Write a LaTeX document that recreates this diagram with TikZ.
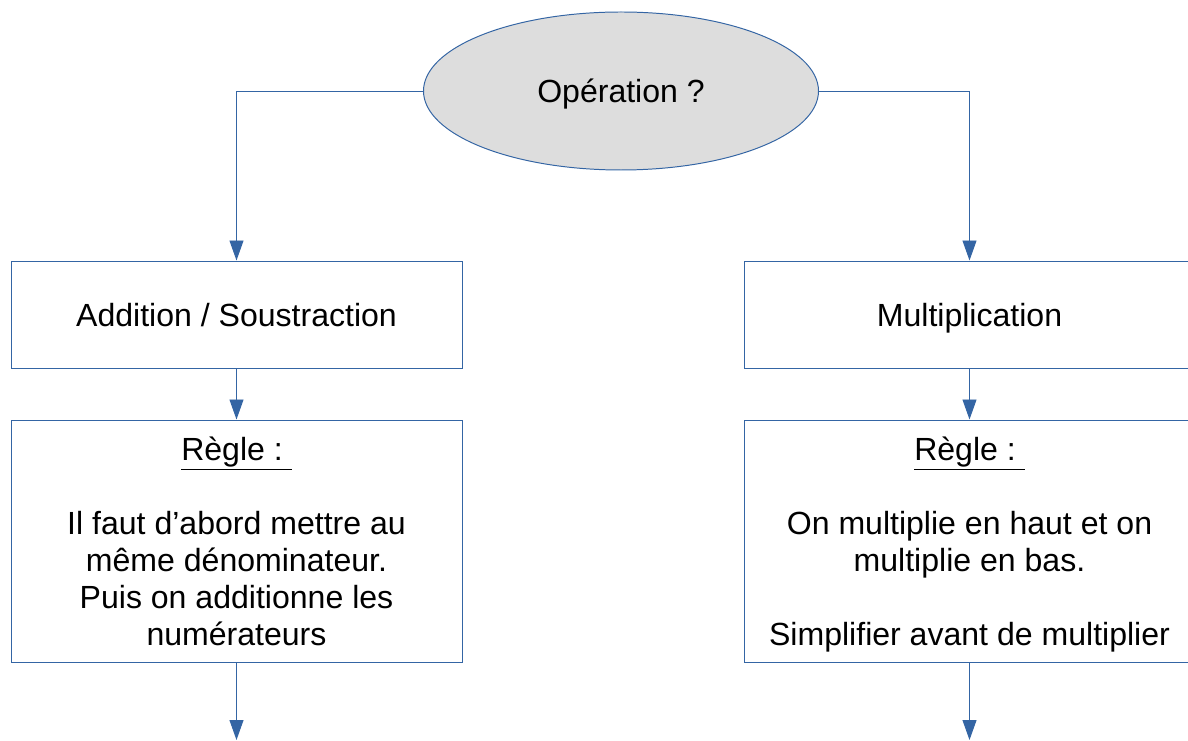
\documentclass[tikz,border=0pt]{standalone}
\usepackage{fontspec}
\setmainfont{Liberation Sans}
\usetikzlibrary{arrows.meta,positioning,shapes.geometric}
\definecolor{flowblue}{RGB}{52,101,164}
\definecolor{lightgrey}{RGB}{221,221,221}

\tikzset{
    decision/.style={ellipse, draw=flowblue, fill=lightgrey, line width=0.7pt,
        minimum width=9.875cm, minimum height=3.95cm, inner sep=0pt, text depth=0pt},
    flowbox/.style={rectangle, draw=flowblue, line width=0.7pt, align=center,
        minimum width=11.275cm, inner sep=0pt},
    flowarrow/.style={draw=flowblue, line width=0.7pt,
        -{Triangle[width=0.35cm, length=0.5cm]}}
}

\begin{document}
\begin{tikzpicture}[font=\fontsize{22.8}{26.3}\selectfont]
    \useasboundingbox (0,0) rectangle (29.7,18.5);

    % Decision
    \node[decision] (op) at (15.525,16.225) {Opération ?};

    % Left branch
    \node[flowbox, minimum height=2.675cm, text depth=0pt] (addbox) at (5.9125,10.6375) {Addition / Soustraction};
    \node[flowbox, minimum height=6.05cm] (addrule) at (5.9125,4.975)
        {\underline{Règle :\ }\\[26.3pt]Il faut d’abord mettre au\\même dénominateur.\\Puis on additionne les\\numérateurs};
    \coordinate (addend) at (5.9125,0);

    % Right branch
    \node[flowbox, minimum height=2.675cm, text depth=0pt] (mulbox) at (24.2375,10.6375) {Multiplication};
    \node[flowbox, minimum height=6.05cm] (mulrule) at (24.2375,4.975)
        {\underline{Règle :\ }\\[26.3pt]On multiplie en haut et on\\multiplie en bas.\\[26.3pt]\smash{Simplifier avant de multiplier}};
    \coordinate (mulend) at (24.2375,0);

    % Connectors
    \draw[flowarrow] (op.west) -| (addbox.north);
    \draw[flowarrow] (op.east) -| (mulbox.north);
    \draw[flowarrow] (addbox) -- (addrule);
    \draw[flowarrow] (mulbox) -- (mulrule);
    \draw[flowarrow] (addrule) -- (addend);
    \draw[flowarrow] (mulrule) -- (mulend);
\end{tikzpicture}
\end{document}
